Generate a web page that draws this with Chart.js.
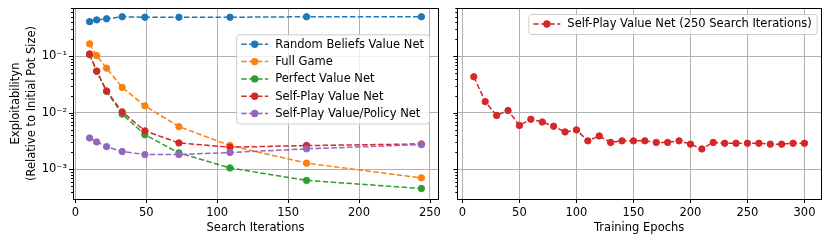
<!DOCTYPE html>
<html>
<head>
<meta charset="utf-8">
<script src="https://cdn.jsdelivr.net/npm/chart.js@4.4.0/dist/chart.umd.min.js"></script>
<style>
  html, body { margin: 0; padding: 0; background: #fff; }
  #wrap { position: relative; width: 831px; height: 243px; overflow: hidden; }
  canvas { position: absolute; top: 0; }
  #left { left: 0; }
  #right { left: 445px; }
</style>
</head>
<body>
<div id="wrap">
  <canvas id="left" width="445" height="243"></canvas>
  <canvas id="right" width="386" height="243"></canvas>
</div>
<script>
// --- DATA ---
const searchIters = [10, 15, 22, 33, 49, 73, 109, 163, 244];
const randomBeliefs = [0.41, 0.44, 0.46, 0.50, 0.49, 0.49, 0.49, 0.50, 0.50];
const fullGame = [0.166, 0.103, 0.0617, 0.0282, 0.0133, 0.0057, 0.00264, 0.00129, 0.00071];
const perfectValue = [0.107, 0.0546, 0.024, 0.0095, 0.0041, 0.00196, 0.00106, 0.00064, 0.00046];
const selfPlayValue = [0.110, 0.0546, 0.0243, 0.0104, 0.0048, 0.00294, 0.00247, 0.00264, 0.00282];
const selfPlayPolicy = [0.0036, 0.00306, 0.00253, 0.00207, 0.00183, 0.00183, 0.00199, 0.00231, 0.00275];

const epochs = [10, 20, 30, 40, 50, 60, 70, 80, 90, 100, 110, 120, 130, 140, 150,
                160, 170, 180, 190, 200, 210, 220, 230, 240, 250, 260, 270, 280, 290, 300];
const epochValues = [0.0434, 0.0158, 0.0090, 0.0110, 0.0060, 0.0077, 0.0069, 0.0058, 0.0046, 0.0050,
                     0.0032, 0.0039, 0.0030, 0.0032, 0.0032, 0.0032, 0.0030, 0.0030, 0.0032, 0.0028,
                     0.0023, 0.0030, 0.0029, 0.0029, 0.0029, 0.0029, 0.0028, 0.0028, 0.0029, 0.0029];

const seriesNames = ['Random Beliefs Value Net', 'Full Game', 'Perfect Value Net', 'Self-Play Value Net', 'Self-Play Value/Policy Net'];
const rightName = 'Self-Play Value Net (250 Search Iterations)';
const xTicksLeft = [0, 50, 100, 150, 200, 250];
const xTicksRight = [0, 50, 100, 150, 200, 250, 300];
const yMajor = [0.001, 0.01, 0.1];
const yMajorLabels = ['10\u207B\u00B3', '10\u207B\u00B2', '10\u207B\u00B9'];

// --- STYLE ---
const COLORS = ['#1f77b4', '#ff7f0e', '#2ca02c', '#d62728', '#9467bd'];
const FONT = 'DejaVu Sans';
const FS = 11.5;
const DASH = [5.5, 2.4];
const Y_MIN = 3.18e-4, Y_MAX = 0.714;

Chart.defaults.font.family = FONT;
Chart.defaults.font.size = FS;
Chart.defaults.color = '#000';
Chart.defaults.animation = false;

function isNice(v) {
    const s = v / Math.pow(10, Math.floor(Math.log10(v) + 1e-9));
    return Math.abs(s - Math.round(s)) < 1e-6;
}
function isMajor(v) {
    const l = Math.log10(v);
    return Math.abs(l - Math.round(l)) < 1e-6;
}
function logTickValues() {
    const out = [];
    for (let e = -4; e <= 0; e++) {
        for (let s = 1; s <= 9; s++) {
            const v = +(s * Math.pow(10, e)).toPrecision(6);
            if (v >= Y_MIN && v <= Y_MAX) out.push(v);
        }
    }
    return out;
}
function tickLabel(v) {
    const i = yMajor.findIndex(m => Math.abs(m - v) / m < 1e-6);
    return i >= 0 ? yMajorLabels[i] : '';
}

function makeDataset(xs, ys, i, name) {
    return {
        label: name,
        data: xs.map((x, k) => ({ x: x, y: ys[k] })),
        borderColor: COLORS[i],
        backgroundColor: COLORS[i],
        borderWidth: 1.5,
        borderDash: DASH,
        pointRadius: 3.2,
        pointBorderWidth: 1,
        pointBackgroundColor: COLORS[i],
        pointBorderColor: COLORS[i],
        tension: 0,
        fill: false,
        order: 10 - i,
        clip: false
    };
}

// frame, tick marks and in-axes legend
const framePlugin = {
    id: 'frame',
    afterDatasetsDraw(chart, args, opts) {
        const { ctx, chartArea: a } = chart;
        const xs = chart.scales.x, ys = chart.scales.y;
        ctx.save();
        ctx.strokeStyle = '#000';
        ctx.lineWidth = 1;
        // ticks
        ctx.beginPath();
        ys.ticks.forEach(t => {
            if (!isNice(t.value)) return;
            const y = Math.round(ys.getPixelForValue(t.value)) + 0.5;
            const len = isMajor(t.value) ? 4 : 2;
            ctx.moveTo(a.left, y);
            ctx.lineTo(a.left - len, y);
        });
        xs.ticks.forEach(t => {
            const x = Math.round(xs.getPixelForValue(t.value)) + 0.5;
            ctx.moveTo(x, a.bottom);
            ctx.lineTo(x, a.bottom + 4);
        });
        ctx.stroke();
        ctx.strokeRect(Math.round(a.left) + 0.5, Math.round(a.top) + 0.5,
                       Math.round(a.right - a.left), Math.round(a.bottom - a.top));

        // legend
        const ds = opts.datasets.map(k => chart.data.datasets[k]);
        ctx.font = FS + 'px ' + FONT;
        const textW = Math.max(...ds.map(d => ctx.measureText(d.label).width));
        const pad = 5, handle = 27, gap = 7, row = 17.3;
        const w = pad + handle + gap + textW + pad;
        const h = 20 + (ds.length - 1) * row;
        const bx = a.right - opts.right - w, by = a.top + opts.top;
        ctx.beginPath();
        ctx.roundRect(bx + 0.5, by + 0.5, w, h, 3);
        ctx.fillStyle = 'rgba(255,255,255,0.8)';
        ctx.fill();
        ctx.strokeStyle = '#cccccc';
        ctx.stroke();
        ds.forEach((d, k) => {
            const cy = by + 10 + k * row;
            const x0 = bx + pad;
            ctx.strokeStyle = d.borderColor;
            ctx.lineWidth = 1.5;
            ctx.setLineDash(DASH);
            ctx.beginPath();
            ctx.moveTo(x0, cy);
            ctx.lineTo(x0 + handle, cy);
            ctx.stroke();
            ctx.setLineDash([]);
            ctx.beginPath();
            ctx.arc(x0 + handle / 2, cy, 3.7, 0, Math.PI * 2);
            ctx.fillStyle = d.borderColor;
            ctx.fill();
            ctx.fillStyle = '#000';
            ctx.textBaseline = 'middle';
            ctx.textAlign = 'left';
            ctx.fillText(d.label, x0 + handle + gap, cy + 0.5);
        });
        ctx.restore();
    }
};

function yScale(showLabels, width) {
    return {
        type: 'logarithmic',
        min: Y_MIN,
        max: Y_MAX,
        afterBuildTicks: s => { s.ticks = logTickValues().map(v => ({ value: v })); },
        afterFit: s => { s.width = width; s.paddingTop = 0; s.paddingBottom = 0; },
        ticks: {
            display: showLabels,
            autoSkip: false,
            padding: 6,
            callback: v => tickLabel(v)
        },
        grid: {
            drawTicks: false,
            lineWidth: 1,
            color: c => (c.tick && isMajor(c.tick.value)) ? '#b0b0b0' : 'rgba(0,0,0,0)'
        },
        border: { display: false },
        title: showLabels ? {
            display: true,
            text: ['Exploitabilityn', '(Relative to Initial Pot Size)'],
            font: { size: FS, lineHeight: 1.45 },
            padding: { top: 7.5, bottom: 0 }
        } : { display: false }
    };
}
function xScale(min, max, ticks, title) {
    return {
        type: 'linear',
        min: min,
        max: max,
        afterBuildTicks: s => { s.ticks = ticks.map(v => ({ value: v })); },
        afterFit: s => { s.height = 44; s.paddingLeft = 0; s.paddingRight = 0; },
        ticks: { padding: 7, autoSkip: false, maxRotation: 0 },
        grid: { drawTicks: false, lineWidth: 1, color: '#b0b0b0' },
        border: { display: false },
        title: { display: true, text: title, padding: { top: 0, bottom: 8 } }
    };
}

const commonOpts = {
    responsive: false,
    devicePixelRatio: 1,
    animation: false,
    events: [],
    plugins: { legend: { display: false }, tooltip: { enabled: false } }
};

new Chart(document.getElementById('left'), {
    type: 'line',
    data: {
        datasets: [randomBeliefs, fullGame, perfectValue, selfPlayValue, selfPlayPolicy]
            .map((ys, i) => makeDataset(searchIters, ys, i, seriesNames[i]))
    },
    options: {
        ...commonOpts,
        layout: { padding: { left: 0, top: 8, right: 7, bottom: 0 } },
        scales: {
            x: xScale(-1.7, 255.7, xTicksLeft, 'Search Iterations'),
            y: yScale(true, 73)
        },
        plugins: { ...commonOpts.plugins, frame: { datasets: [0, 1, 2, 3, 4], right: 9, top: 26.3 } }
    },
    plugins: [framePlugin]
});

new Chart(document.getElementById('right'), {
    type: 'line',
    data: { datasets: [makeDataset(epochs, epochValues, 3, rightName)] },
    options: {
        ...commonOpts,
        layout: { padding: { left: 0, top: 8, right: 10, bottom: 0 } },
        scales: {
            x: xScale(-4.5, 314.5, xTicksRight, 'Training Epochs'),
            y: yScale(false, 12.3)
        },
        plugins: { ...commonOpts.plugins, frame: { datasets: [0], right: 4.3, top: 6 } }
    },
    plugins: [framePlugin]
});
</script>
</body>
</html>
